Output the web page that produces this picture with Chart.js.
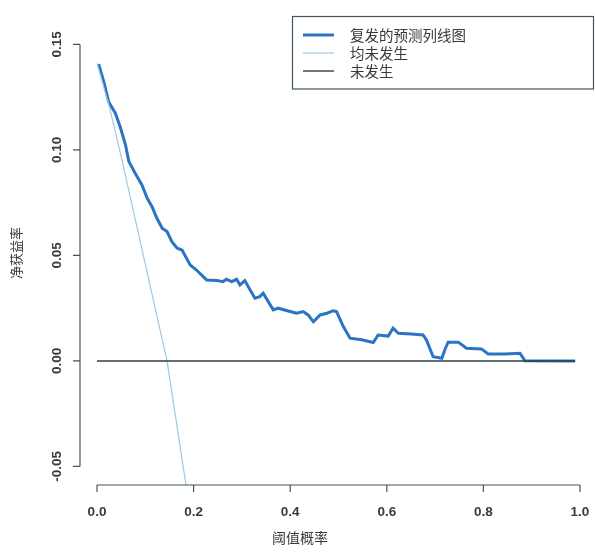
<!DOCTYPE html>
<html>
<head>
<meta charset="utf-8">
<script src="https://cdn.jsdelivr.net/npm/chart.js@4.4.1/dist/chart.umd.min.js"></script>
<style>
  html, body { margin: 0; padding: 0; background: #fff; }
  #wrap { width: 595px; height: 557px; position: relative; }
</style>
</head>
<body>
<div id="wrap"><canvas id="dca"></canvas></div>
<script>
// Decision curve data
const modelX = [0.0035, 0.014, 0.024, 0.038, 0.048, 0.059, 0.066, 0.079, 0.093, 0.104,
  0.114, 0.124, 0.135, 0.145, 0.155, 0.166, 0.176, 0.193, 0.206, 0.227,
  0.248, 0.261, 0.268, 0.279, 0.289, 0.296, 0.306, 0.327, 0.337, 0.344,
  0.365, 0.375, 0.400, 0.413, 0.427, 0.437, 0.448, 0.462, 0.476, 0.489,
  0.496, 0.510, 0.524, 0.548, 0.572, 0.582, 0.603, 0.613, 0.624, 0.651,
  0.675, 0.682, 0.696, 0.714, 0.720, 0.727, 0.748, 0.765, 0.796, 0.810,
  0.845, 0.876, 0.886, 0.990];
const modelY = [0.1407, 0.1324, 0.1229, 0.1174, 0.1110, 0.1024, 0.0945, 0.0890, 0.0834, 0.0771,
  0.0731, 0.0676, 0.0629, 0.0613, 0.0565, 0.0534, 0.0526, 0.0455, 0.0431, 0.0384,
  0.0381, 0.0376, 0.0387, 0.0376, 0.0387, 0.0360, 0.0381, 0.0297, 0.0305, 0.0321,
  0.0242, 0.0250, 0.0234, 0.0226, 0.0234, 0.0218, 0.0186, 0.0218, 0.0226, 0.0238,
  0.0234, 0.0163, 0.0108, 0.0100, 0.0087, 0.0123, 0.0118, 0.0155, 0.0131, 0.0128,
  0.0123, 0.0100, 0.0020, 0.0013, 0.0052, 0.0089, 0.0089, 0.0060, 0.0057, 0.0033,
  0.0033, 0.0036, 0.0001, 0.0];

const allX = [0.0, 0.025, 0.05, 0.093, 0.145, 0.185];
const allY = [0.141, 0.121, 0.097, 0.053, 0.0, -0.06];

const noneX = [0.0, 0.99];
const noneY = [0.0, 0.0];

const xTicks = [0, 0.2, 0.4, 0.6, 0.8, 1.0];
const xTickLabels = ['0.0', '0.2', '0.4', '0.6', '0.8', '1.0'];
const yTicks = [-0.05, 0, 0.05, 0.10, 0.15];
const yTickLabels = ['-0.05', '0.00', '0.05', '0.10', '0.15'];

const seriesNames = ['复发的预测列线图', '均未发生', '未发生'];
const seriesColors = ['#2b74c4', '#9fc9e2', '#2f3f4a'];
const seriesWidths = [3, 1.2, 1.4];

const xTitle = '阈值概率';
const yTitle = '净获益率';

const toPoints = (xs, ys) => xs.map((x, i) => ({ x: x, y: ys[i] }));

const AXIS_COLOR = '#3f5566';
const TEXT_COLOR = '#3a3a3a';
const TICK_FONT = 'bold 13.5px "Liberation Sans", Arial, sans-serif';

// R-style axes, titles and legend
const rStyle = {
  id: 'rStyle',
  afterDraw(chart) {
    const ctx = chart.ctx;
    const xs = chart.scales.x;
    const ys = chart.scales.y;
    const area = chart.chartArea;
    ctx.save();
    ctx.strokeStyle = AXIS_COLOR;
    ctx.lineWidth = 1.2;

    // y axis
    const yAxisX = area.left;
    ctx.beginPath();
    ctx.moveTo(yAxisX, ys.getPixelForValue(yTicks[0]));
    ctx.lineTo(yAxisX, ys.getPixelForValue(yTicks[yTicks.length - 1]));
    yTicks.forEach(v => {
      const py = ys.getPixelForValue(v);
      ctx.moveTo(yAxisX, py);
      ctx.lineTo(yAxisX - 7, py);
    });
    ctx.stroke();

    ctx.fillStyle = TEXT_COLOR;
    ctx.font = TICK_FONT;
    ctx.textAlign = 'center';
    ctx.textBaseline = 'middle';
    yTicks.forEach((v, i) => {
      const py = ys.getPixelForValue(v);
      ctx.save();
      ctx.translate(57, py);
      ctx.rotate(-Math.PI / 2);
      ctx.fillText(yTickLabels[i], 0, 0);
      ctx.restore();
    });

    // x axis
    const xAxisY = area.bottom;
    ctx.beginPath();
    ctx.moveTo(xs.getPixelForValue(xTicks[0]), xAxisY);
    ctx.lineTo(xs.getPixelForValue(xTicks[xTicks.length - 1]), xAxisY);
    xTicks.forEach(v => {
      const px = xs.getPixelForValue(v);
      ctx.moveTo(px, xAxisY);
      ctx.lineTo(px, xAxisY + 7);
    });
    ctx.stroke();
    xTicks.forEach((v, i) => {
      ctx.fillText(xTickLabels[i], xs.getPixelForValue(v), 512);
    });

    // axis titles
    ctx.font = '14px "Noto Sans CJK SC", sans-serif';
    ctx.fillText(xTitle, 300, 538);
    ctx.font = '13px "Noto Sans CJK SC", sans-serif';
    ctx.save();
    ctx.translate(16, 253);
    ctx.rotate(-Math.PI / 2);
    ctx.fillText(yTitle, 0, 0);
    ctx.restore();

    // legend
    ctx.fillStyle = '#ffffff';
    ctx.fillRect(292.5, 16.5, 301, 72.5);
    ctx.strokeStyle = AXIS_COLOR;
    ctx.lineWidth = 1.2;
    ctx.strokeRect(292.5, 16.5, 301, 72.5);
    ctx.font = '14.5px "Noto Sans CJK SC", sans-serif';
    ctx.textAlign = 'left';
    const rows = [35, 53, 71];
    seriesNames.forEach((name, i) => {
      ctx.strokeStyle = seriesColors[i];
      ctx.lineWidth = seriesWidths[i];
      ctx.beginPath();
      ctx.moveTo(303, rows[i]);
      ctx.lineTo(334, rows[i]);
      ctx.stroke();
      ctx.fillStyle = TEXT_COLOR;
      ctx.fillText(name, 350, rows[i]);
    });
    ctx.restore();
  }
};

const mkSet = (i, xs, ysv) => ({
  label: seriesNames[i],
  data: toPoints(xs, ysv),
  showLine: true,
  borderColor: seriesColors[i],
  backgroundColor: seriesColors[i],
  borderWidth: seriesWidths[i],
  pointRadius: 0,
  tension: 0,
  fill: false
});

new Chart(document.getElementById('dca'), {
  type: 'scatter',
  data: {
    datasets: [
      mkSet(2, noneX, noneY),
      mkSet(1, allX, allY),
      mkSet(0, modelX, modelY)
    ]
  },
  options: {
    responsive: true,
    maintainAspectRatio: false,
    animation: false,
    layout: { padding: { left: 80, right: 0, top: 28, bottom: 72 } },
    plugins: {
      legend: { display: false },
      tooltip: { enabled: false }
    },
    scales: {
      x: { type: 'linear', min: -0.0352, max: 1.0311, display: false },
      y: { type: 'linear', min: -0.0588, max: 0.1578, display: false }
    }
  },
  plugins: [rStyle]
});
</script>
</body>
</html>
